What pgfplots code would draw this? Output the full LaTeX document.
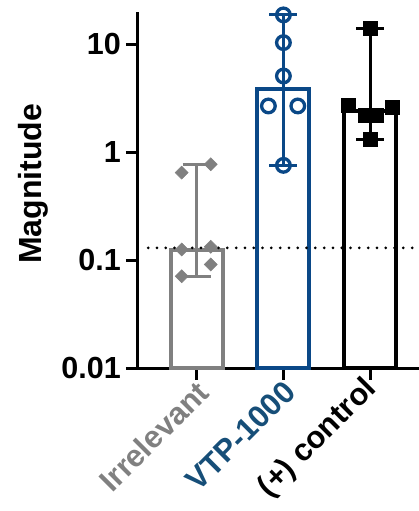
\documentclass[border=0pt]{standalone}
\usepackage{fontspec}
\setmainfont{Liberation Sans}
\usepackage{pgfplots}
\pgfplotsset{compat=1.18}
\definecolor{cgray}{RGB}{128,128,128}
\definecolor{cblue}{RGB}{10,72,135}
\definecolor{clabblue}{RGB}{22,78,120}
\begin{document}
\begin{tikzpicture}
\useasboundingbox (-138pt,-143pt) rectangle (281pt,368pt);
\begin{axis}[
  at={(0pt,0pt)}, anchor=south west,
  scale only axis, width=281pt, height=356pt,
  ymode=log, ymin=0.01, ymax=20, log origin=infty,
  xmin=-0.677, xmax=2.564,
  axis lines*=left,
  clip=false,
  ytick={0.01,0.1,1,10}, yticklabels={0.01,0.1,1,10},
  yminorticks=false,
  xtick={0,1,2},
  xticklabels={\textcolor{cgray}{Irrelevant},\textcolor{clabblue}{VTP-1000},\raisebox{8pt}[\height][\depth]{(+) control\hspace{2pt}}},
  tick align=outside, major tick length=12pt,
  axis line style={line width=3pt, black},
  tick style={line width=3pt, black},
  yticklabel style={font=\fontsize{30.5}{36}\selectfont\bfseries, inner sep=0pt, xshift=-5pt},
  xticklabel style={font=\fontsize{31}{37}\selectfont\bfseries, rotate=45, anchor=north east, inner sep=0pt, xshift=0pt, yshift=2pt},
  ylabel={Magnitude},
  ylabel style={font=\fontsize{32}{38}\selectfont\bfseries, at={(axis description cs:-0.374,0.517)}, anchor=center},
]
% bars (median)
\addplot[ybar, bar shift=0pt, bar width=52pt, draw=cgray, line width=4pt, fill=white]
  coordinates {(0,0.125)};
\addplot[ybar, bar shift=0pt, bar width=52pt, draw=cblue, line width=4pt, fill=white]
  coordinates {(1,3.86)};
\addplot[ybar, bar shift=0pt, bar width=52pt, draw=black, line width=4pt, fill=white]
  coordinates {(2,2.40)};
% range bars (min to max) with caps
\addplot[cgray, line width=3pt, mark=none] coordinates {(0,0.071) (0,0.774)};
\addplot[cgray, line width=3pt, mark=none] coordinates {(-0.162,0.774) (0.162,0.774)};
\addplot[cgray, line width=3pt, mark=none] coordinates {(-0.162,0.071) (0.162,0.071)};
\addplot[cblue, line width=3pt, mark=none] coordinates {(1,0.757) (1,18.8)};
\addplot[cblue, line width=3pt, mark=none] coordinates {(0.838,18.8) (1.162,18.8)};
\addplot[cblue, line width=3pt, mark=none] coordinates {(0.838,0.757) (1.162,0.757)};
\addplot[black, line width=3pt, mark=none] coordinates {(2,1.32) (2,14.08)};
\addplot[black, line width=3pt, mark=none] coordinates {(1.838,14.08) (2.162,14.08)};
\addplot[black, line width=3pt, mark=none] coordinates {(1.838,1.32) (2.162,1.32)};
% dotted threshold line
\addplot[black, line width=3pt, line cap=round, dash pattern=on 0pt off 8.8pt, mark=none]
  coordinates {(-0.56,0.13) (2.564,0.13)};
% points
\addplot[only marks, mark=square*, mark size=4.6pt, mark options={rotate=45, fill=cgray, draw=cgray, line width=0.5pt}]
  coordinates {(-0.173,0.648) (0.162,0.774) (-0.173,0.1257) (0.162,0.133) (0.162,0.0912) (-0.173,0.071)};
\addplot[only marks, mark=o, mark size=6.8pt, mark options={draw=cblue, line width=3.3pt}]
  coordinates {(1,18.8) (1,10.4) (1,5.1) (0.827,2.69) (1.166,2.69) (1,0.757)};
\addplot[only marks, mark=square*, mark size=7pt, mark options={fill=black, draw=black, line width=0.5pt}]
  coordinates {(2,14.08) (1.75,2.73) (2.25,2.60) (1.94,2.21) (2.07,2.21) (2,1.32)};
\end{axis}
\end{tikzpicture}
\end{document}
